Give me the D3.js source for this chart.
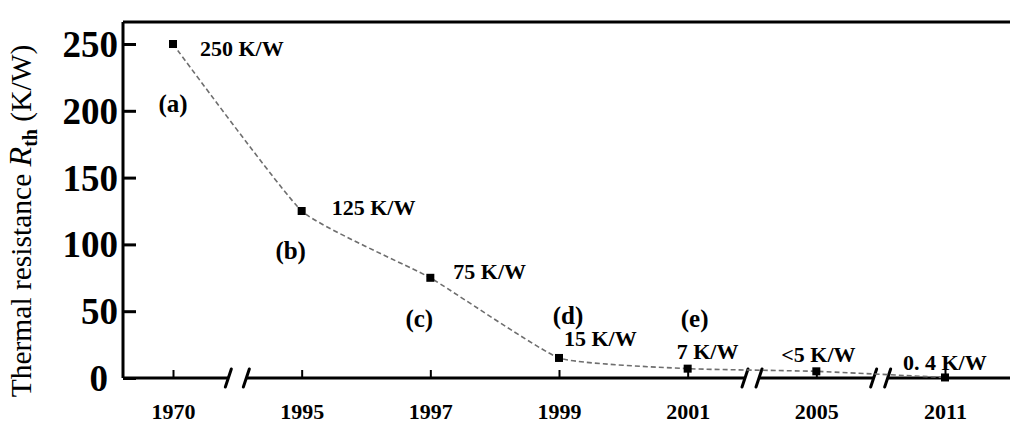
<!DOCTYPE html>
<html>
<head>
<meta charset="utf-8">
<script src="https://cdn.jsdelivr.net/npm/d3@7"></script>
<style>
  body { margin: 0; background: #fff; }
  svg text { font-family: "Liberation Serif", "Times New Roman", serif; }
</style>
</head>
<body>
<div id="chart"></div>
<script>
// data
var years = ["1970", "1995", "1997", "1999", "2001", "2005", "2011"];
var rth = [250, 125, 75, 15, 7, 5, 0.4];
var valueLabels = ["250 K/W", "125 K/W", "75 K/W", "15 K/W", "7 K/W", "<5 K/W", "0. 4 K/W"];
var letters = ["(a)", "(b)", "(c)", "(d)", "(e)"];
var yTicks = [0, 50, 100, 150, 200, 250];
var breaksAfter = ["1970", "2001", "2005"];

var width = 1010, height = 425;
var margin = { top: 22, right: 0, bottom: 47, left: 123 };
var innerW = width - margin.left - margin.right,
    innerH = height - margin.top - margin.bottom;

var svg = d3.select("#chart").append("svg")
  .attr("width", width)
  .attr("height", height);

var g = svg.append("g")
  .attr("transform", "translate(" + margin.left + "," + margin.top + ")");

var x = d3.scalePoint()
  .domain(years)
  .range([50, 822]);

var y = d3.scaleLinear()
  .domain([0, 250])
  .range([innerH, 22]);

// frame: top line + left axis
g.append("line")
  .attr("x1", 0).attr("x2", innerW)
  .attr("y1", 0).attr("y2", 0)
  .attr("stroke", "#000").attr("stroke-width", 3);

var yAxis = g.append("g")
  .call(d3.axisLeft(y).tickValues(yTicks).tickSize(-13).tickPadding(5).tickFormat(d3.format("d")));
yAxis.select(".domain").remove();
yAxis.append("line")
  .attr("x1", 0).attr("x2", 0)
  .attr("y1", 0).attr("y2", innerH)
  .attr("stroke", "#000").attr("stroke-width", 3);
yAxis.selectAll(".tick line").attr("stroke-width", 3);
yAxis.selectAll(".tick text")
  .attr("font-size", "37px")
  .attr("font-weight", "bold")
  .attr("fill", "#000")
  .attr("dy", "0.34em")
  .attr("dx", function (d) { return d === 0 ? -10 : 0; })
  .style("font-family", "Liberation Serif, serif");

// bottom axis
var xAxis = g.append("g")
  .attr("transform", "translate(0," + innerH + ")")
  .call(d3.axisBottom(x).tickSize(-8).tickPadding(25));
xAxis.select(".domain").remove();
xAxis.append("line")
  .attr("x1", 0).attr("x2", innerW)
  .attr("y1", 0).attr("y2", 0)
  .attr("stroke", "#000").attr("stroke-width", 3);
xAxis.selectAll(".tick line").attr("stroke-width", 2);
xAxis.selectAll(".tick text")
  .attr("font-size", "22px")
  .attr("font-weight", "bold")
  .attr("fill", "#000")
  .style("font-family", "Liberation Serif, serif");

// axis breaks
var step = x.step();
breaksAfter.forEach(function (yr) {
  var bx = x(yr) + step / 2;
  var gap = yr === "1970" ? 9 : 7;
  var br = xAxis.append("g").attr("transform", "translate(" + bx + ",0)");
  br.append("rect")
    .attr("x", -gap).attr("y", -3).attr("width", gap * 2).attr("height", 6)
    .attr("fill", "#fff");
  [-gap, gap].forEach(function (dx) {
    br.append("line")
      .attr("x1", dx - 3).attr("y1", 9)
      .attr("x2", dx + 3).attr("y2", -9)
      .attr("stroke", "#000").attr("stroke-width", 3)
      .attr("stroke-linecap", "round");
  });
});

// dashed trend line
var pts = years.map(function (yr, i) { return [x(yr), y(rth[i])]; });
g.append("path")
  .attr("d", d3.line().curve(d3.curveCardinal.tension(0.6))(pts))
  .attr("fill", "none")
  .attr("stroke", "#6e6e6e")
  .attr("stroke-width", 1.6)
  .attr("stroke-dasharray", "5,3");

// markers
g.selectAll("rect.pt")
  .data(years)
  .enter().append("rect")
  .attr("class", "pt")
  .attr("x", function (d) { return x(d) - 4; })
  .attr("y", function (d, i) { return y(rth[i]) - 4; })
  .attr("width", 8).attr("height", 8)
  .attr("fill", "#000");

// value labels
var valOff = [[27, 4], [30, -4], [23, -7], [5, -20], [-11, -17], [-35, -17], [-42, -15]];
g.selectAll("text.val")
  .data(years)
  .enter().append("text")
  .attr("class", "val")
  .attr("x", function (d, i) { return x(d) + valOff[i][0]; })
  .attr("y", function (d, i) { return y(rth[i]) + valOff[i][1]; })
  .attr("dy", "0.35em")
  .attr("font-size", "22px")
  .attr("font-weight", "bold")
  .attr("fill", "#000")
  .text(function (d, i) { return valueLabels[i]; });

// letter labels
var letOff = [[0, 59], [-11, 39], [-11, 40], [9, -43], [7, -50]];
g.selectAll("text.let")
  .data(letters)
  .enter().append("text")
  .attr("class", "let")
  .attr("x", function (d, i) { return x(years[i]) + letOff[i][0]; })
  .attr("y", function (d, i) { return y(rth[i]) + letOff[i][1]; })
  .attr("dy", "0.35em")
  .attr("text-anchor", "middle")
  .attr("font-size", "25px")
  .attr("font-weight", "bold")
  .attr("fill", "#000")
  .text(function (d) { return d; });

// y title
var title = svg.append("text")
  .attr("transform", "translate(31," + 221 + ") rotate(-90)")
  .attr("text-anchor", "middle")
  .attr("font-size", "29.5px")
  .attr("fill", "#000")
  .style("font-family", "Liberation Serif, serif");
title.append("tspan").text("Thermal resistance  ");
title.append("tspan").attr("font-style", "italic").attr("font-size", "32px").text("R");
title.append("tspan").attr("font-weight", "bold").attr("font-size", "20px").attr("dy", 6).text("th");
title.append("tspan").attr("dy", -6).text(" (K/W)");
</script>
</body>
</html>
